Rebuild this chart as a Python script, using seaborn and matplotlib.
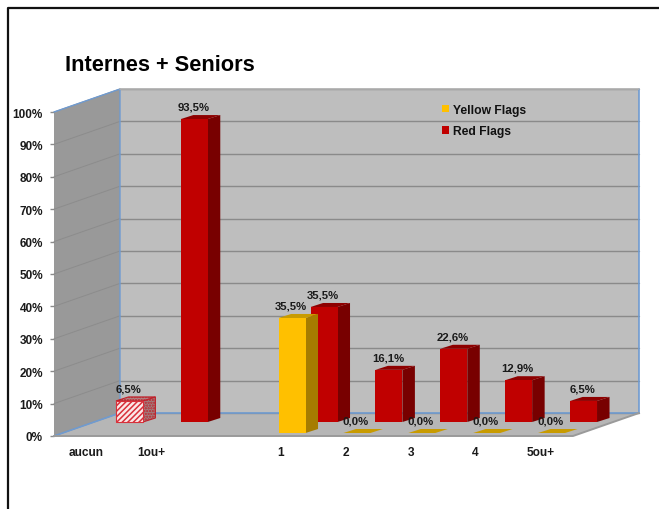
import numpy as np
import pandas as pd
import seaborn as sns
import matplotlib
matplotlib.use("Agg")
import matplotlib.pyplot as plt
from matplotlib.lines import Line2D
from matplotlib.patches import Polygon, Patch

# data
categories = ["aucun", "1ou+", " ", "1", "2", "3", "4", "5ou+"]
yellow_flags = [None, None, None, 35.5, 0.0, 0.0, 0.0, 0.0]
red_flags = [6.5, 93.5, None, 35.5, 16.1, 22.6, 12.9, 6.5]
yticks = list(range(0, 101, 10))
ytick_labels = [f"{t}%" for t in yticks]

df = pd.DataFrame({
    "cat": categories * 2,
    "series": ["Red Flags"] * 8 + ["Yellow Flags"] * 8,
    "pct": red_flags + yellow_flags,
})

sns.set_style("white")
plt.rcParams["font.family"] = ["Liberation Sans", "DejaVu Sans"]
plt.rcParams["hatch.linewidth"] = 1.1

fig = plt.figure(figsize=(6.59, 5.10), dpi=100)
ax = fig.add_axes([54 / 659, 1 - 437 / 510, 519 / 659, 324 / 510])

# px to data units
px_x = 8 / 519
px_y = 100 / 324

sns.barplot(data=df, x="cat", y="pct", hue="series", order=categories,
            hue_order=["Red Flags", "Yellow Flags"], dodge=False, width=0.415,
            palette={"Red Flags": "#C00000", "Yellow Flags": "#FFC000"},
            saturation=1, errorbar=None, legend=False, edgecolor="none", linewidth=0, ax=ax)
ax.set_xlim(-0.5, 7.5)
ax.set_ylim(0, 100)
ax.set_xlabel("")
ax.set_ylabel("")
sns.despine(ax=ax, left=True, bottom=True)

# walls and floor of the fake 3d box
wall_dx = 66 * px_x
wall_dy = 23 * px_y
x0, x1 = -0.5, 7.5
ax.add_patch(Polygon([(x0 + wall_dx, wall_dy), (x1 + wall_dx, wall_dy), (x1 + wall_dx, 100 + wall_dy),
                      (x0 + wall_dx, 100 + wall_dy)], fc="#BEBEBE", ec="none", clip_on=False, zorder=0))
ax.add_patch(Polygon([(x0, 0), (x0 + wall_dx, wall_dy), (x0 + wall_dx, 100 + wall_dy), (x0, 100)],
                     fc="#999999", ec="none", clip_on=False, zorder=0))
ax.add_patch(Polygon([(x0, 0), (x1, 0), (x1 + wall_dx, wall_dy), (x0 + wall_dx, wall_dy)],
                     fc="#B6B6B6", ec="none", clip_on=False, zorder=0))
for t in yticks:
    ax.plot([x0 + wall_dx, x1 + wall_dx], [t + wall_dy, t + wall_dy], color="#8A8A8A", lw=1.0,
            clip_on=False, zorder=1)
    ax.plot([x0, x0 + wall_dx], [t, t + wall_dy], color="#8C8C8C", lw=0.7, clip_on=False, zorder=1)
blue = "#6F9BD1"
ax.plot([x0, x0 + wall_dx, x0 + wall_dx], [100, 100 + wall_dy, wall_dy], color=blue, lw=1, clip_on=False, zorder=1.5)
ax.plot([x0, x0 + wall_dx, x1 + wall_dx, x1 + wall_dx], [0, wall_dy, wall_dy, 100 + wall_dy], color=blue, lw=1.2,
        clip_on=False, zorder=1.5)
ax.plot([x0 + wall_dx, x1 + wall_dx], [100 + wall_dy] * 2, color="#B0B0B0", lw=1.2, clip_on=False, zorder=1.5)
ax.plot([x0, x1, x1 + wall_dx], [0, 0, wall_dy], color="#9A9A9A", lw=1.4, clip_on=False, zorder=1.5)

# depth of each row of bars, front face offsets in px
depth = {
    "red": dict(shift=43 * px_x, base=14 * px_y, side="#780000", top="#8E0000", z=3),
    "yellow": dict(shift=11 * px_x, base=3 * px_y, side="#A67C00", top="#C89B00", z=4),
}
bar_dx = 12.5 * px_x
bar_dy = 4 * px_y

for container, key in zip(ax.containers, ["red", "yellow"]):
    d = depth[key]
    for patch in container:
        h = patch.get_height()
        if np.isnan(h):
            continue
        x = patch.get_x() + d["shift"]
        w = patch.get_width()
        y = d["base"]
        patch.set_x(x)
        patch.set_y(y)
        patch.set_zorder(d["z"] + 0.1)
        patch.set_clip_on(False)
        first = key == "red" and x < 0.5
        if first:
            # the "aucun" bar is hatched in the original
            patch.set_facecolor("#FBE8E8")
            patch.set_edgecolor("#D8303A")
            patch.set_hatch("//////")
            patch.set_linewidth(0.8)
        side = Polygon([(x + w, y), (x + w + bar_dx, y + bar_dy), (x + w + bar_dx, y + h + bar_dy), (x + w, y + h)],
                       fc="#A08080" if first else d["side"], ec="#C0202A" if first else "none", lw=0.8,
                       hatch="......" if first else None, clip_on=False, zorder=d["z"])
        top = Polygon([(x, y + h), (x + bar_dx, y + h + bar_dy), (x + w + bar_dx, y + h + bar_dy), (x + w, y + h)],
                      fc="#B08888" if first else d["top"], ec="#C0202A" if first else "none", lw=0.8,
                      hatch="......" if first else None, clip_on=False, zorder=d["z"])
        ax.add_patch(side)
        ax.add_patch(top)
        ax.text(x + w / 2 - 1 * px_x, y + h + bar_dy + 8.5 * px_y, f"{h:.1f}%".replace(".", ","), ha="center",
                va="center", fontsize=8.2, fontweight="bold", color="#1A1A1A", zorder=6, clip_on=False)

ax.set_yticks(yticks, ytick_labels, fontsize=8.5, fontweight="bold", color="#1A1A1A")
ax.tick_params(axis="y", left=True, length=3, width=1, color="#8A8A8A", pad=5)
ax.tick_params(axis="x", bottom=False, length=0, pad=7)
ax.set_xticks(range(8), categories, fontsize=8.6, fontweight="bold", color="#1A1A1A")

handles = [Patch(fc="#FFC000", ec="none", label="Yellow Flags"), Patch(fc="#C00000", ec="none", label="Red Flags")]
fig.legend(handles=handles, loc="upper left", bbox_to_anchor=(431 / 659, 1 - 94 / 510), frameon=False,
           handlelength=0.6, handleheight=0.6, handletextpad=0.3, labelspacing=0.78,
           prop={"size": 8.7, "weight": "bold"}, labelcolor="#111111")

fig.text(65 / 659, 1 - 65.5 / 510, "Internes + Seniors", fontsize=15.7, fontweight="bold", va="center", color="black")

# outer frame of the pasted chart
fig.add_artist(Line2D([7.5 / 659, 7.5 / 659, 1], [0, 1 - 8.5 / 510, 1 - 8.5 / 510], color="#111111", lw=1.6))

fig.savefig("out.png", dpi=100)
